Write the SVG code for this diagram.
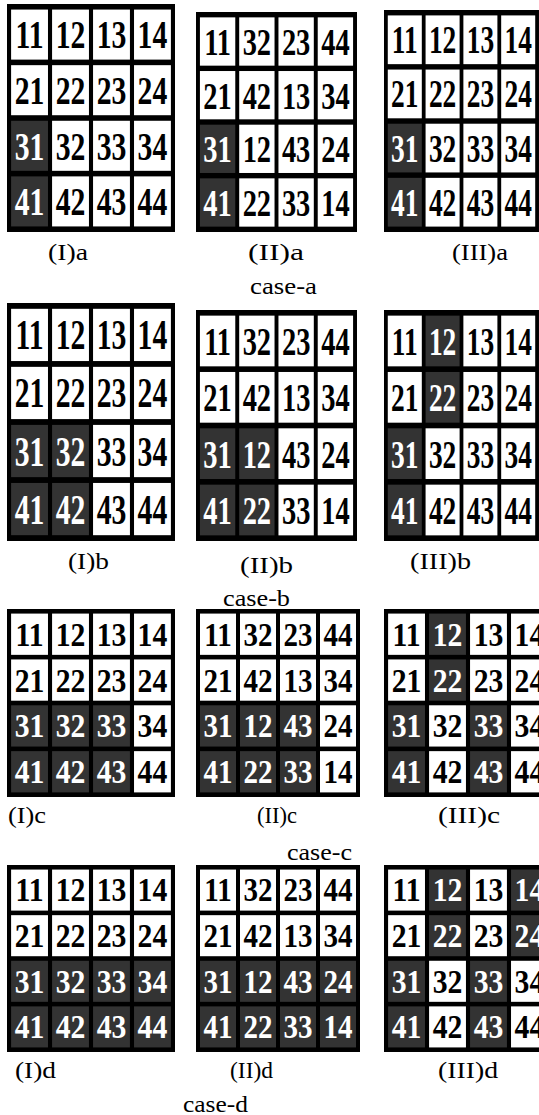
<svg xmlns="http://www.w3.org/2000/svg" width="539" height="1115" viewBox="0 0 539 1115">
<style>
.page{fill:#fff}
.bg{fill:#000}
.w{fill:#fff;width:36px;height:36px}
.d{fill:#333;width:36px;height:36px}
.t{font-family:"Liberation Serif","Times New Roman",serif;font-weight:bold;font-size:29px;text-anchor:middle;fill:#000}
.l{fill:#fff}
.lbl{font-family:"Liberation Serif","Times New Roman",serif;font-size:23px;fill:#000}
</style>
<rect class="page" width="539" height="1115"/>

<g id="grid-Ia" transform="translate(7,4) scale(1.0244,1.3902)">
<rect class="bg" width="164" height="164"/>
<rect class="w" x="4" y="4"/><text class="t" x="22" y="32">11</text>
<rect class="w" x="44" y="4"/><text class="t" x="62" y="32">12</text>
<rect class="w" x="84" y="4"/><text class="t" x="102" y="32">13</text>
<rect class="w" x="124" y="4"/><text class="t" x="142" y="32">14</text>
<rect class="w" x="4" y="44"/><text class="t" x="22" y="72">21</text>
<rect class="w" x="44" y="44"/><text class="t" x="62" y="72">22</text>
<rect class="w" x="84" y="44"/><text class="t" x="102" y="72">23</text>
<rect class="w" x="124" y="44"/><text class="t" x="142" y="72">24</text>
<rect class="d" x="4" y="84"/><text class="t l" x="22" y="112">31</text>
<rect class="w" x="44" y="84"/><text class="t" x="62" y="112">32</text>
<rect class="w" x="84" y="84"/><text class="t" x="102" y="112">33</text>
<rect class="w" x="124" y="84"/><text class="t" x="142" y="112">34</text>
<rect class="d" x="4" y="124"/><text class="t l" x="22" y="152">41</text>
<rect class="w" x="44" y="124"/><text class="t" x="62" y="152">42</text>
<rect class="w" x="84" y="124"/><text class="t" x="102" y="152">43</text>
<rect class="w" x="124" y="124"/><text class="t" x="142" y="152">44</text>
</g>

<g id="grid-IIa" transform="translate(196,12) scale(0.9817,1.3415)">
<rect class="bg" width="164" height="164"/>
<rect class="w" x="4" y="4"/><text class="t" x="22" y="32">11</text>
<rect class="w" x="44" y="4"/><text class="t" x="62" y="32">32</text>
<rect class="w" x="84" y="4"/><text class="t" x="102" y="32">23</text>
<rect class="w" x="124" y="4"/><text class="t" x="142" y="32">44</text>
<rect class="w" x="4" y="44"/><text class="t" x="22" y="72">21</text>
<rect class="w" x="44" y="44"/><text class="t" x="62" y="72">42</text>
<rect class="w" x="84" y="44"/><text class="t" x="102" y="72">13</text>
<rect class="w" x="124" y="44"/><text class="t" x="142" y="72">34</text>
<rect class="d" x="4" y="84"/><text class="t l" x="22" y="112">31</text>
<rect class="w" x="44" y="84"/><text class="t" x="62" y="112">12</text>
<rect class="w" x="84" y="84"/><text class="t" x="102" y="112">43</text>
<rect class="w" x="124" y="84"/><text class="t" x="142" y="112">24</text>
<rect class="d" x="4" y="124"/><text class="t l" x="22" y="152">41</text>
<rect class="w" x="44" y="124"/><text class="t" x="62" y="152">22</text>
<rect class="w" x="84" y="124"/><text class="t" x="102" y="152">33</text>
<rect class="w" x="124" y="124"/><text class="t" x="142" y="152">14</text>
</g>

<g id="grid-IIIa" transform="translate(384,10) scale(0.945,1.3537)">
<rect class="bg" width="164" height="164"/>
<rect class="w" x="4" y="4"/><text class="t" x="22" y="32">11</text>
<rect class="w" x="44" y="4"/><text class="t" x="62" y="32">12</text>
<rect class="w" x="84" y="4"/><text class="t" x="102" y="32">13</text>
<rect class="w" x="124" y="4"/><text class="t" x="142" y="32">14</text>
<rect class="w" x="4" y="44"/><text class="t" x="22" y="72">21</text>
<rect class="w" x="44" y="44"/><text class="t" x="62" y="72">22</text>
<rect class="w" x="84" y="44"/><text class="t" x="102" y="72">23</text>
<rect class="w" x="124" y="44"/><text class="t" x="142" y="72">24</text>
<rect class="d" x="4" y="84"/><text class="t l" x="22" y="112">31</text>
<rect class="w" x="44" y="84"/><text class="t" x="62" y="112">32</text>
<rect class="w" x="84" y="84"/><text class="t" x="102" y="112">33</text>
<rect class="w" x="124" y="84"/><text class="t" x="142" y="112">34</text>
<rect class="d" x="4" y="124"/><text class="t l" x="22" y="152">41</text>
<rect class="w" x="44" y="124"/><text class="t" x="62" y="152">42</text>
<rect class="w" x="84" y="124"/><text class="t" x="102" y="152">43</text>
<rect class="w" x="124" y="124"/><text class="t" x="142" y="152">44</text>
</g>

<g id="labels-a">
<text class="lbl" x="48" y="260" textLength="40" lengthAdjust="spacingAndGlyphs">(I)a</text>
<text class="lbl" x="248" y="260" textLength="56" lengthAdjust="spacingAndGlyphs">(II)a</text>
<text class="lbl" x="452" y="260" textLength="56" lengthAdjust="spacingAndGlyphs">(III)a</text>
<text class="lbl" x="250" y="294" textLength="67" lengthAdjust="spacingAndGlyphs">case-a</text>
</g>

<g id="grid-Ib" transform="translate(7,303) scale(1.0244,1.4512)">
<rect class="bg" width="164" height="164"/>
<rect class="w" x="4" y="4"/><text class="t" x="22" y="32">11</text>
<rect class="w" x="44" y="4"/><text class="t" x="62" y="32">12</text>
<rect class="w" x="84" y="4"/><text class="t" x="102" y="32">13</text>
<rect class="w" x="124" y="4"/><text class="t" x="142" y="32">14</text>
<rect class="w" x="4" y="44"/><text class="t" x="22" y="72">21</text>
<rect class="w" x="44" y="44"/><text class="t" x="62" y="72">22</text>
<rect class="w" x="84" y="44"/><text class="t" x="102" y="72">23</text>
<rect class="w" x="124" y="44"/><text class="t" x="142" y="72">24</text>
<rect class="d" x="4" y="84"/><text class="t l" x="22" y="112">31</text>
<rect class="d" x="44" y="84"/><text class="t l" x="62" y="112">32</text>
<rect class="w" x="84" y="84"/><text class="t" x="102" y="112">33</text>
<rect class="w" x="124" y="84"/><text class="t" x="142" y="112">34</text>
<rect class="d" x="4" y="124"/><text class="t l" x="22" y="152">41</text>
<rect class="d" x="44" y="124"/><text class="t l" x="62" y="152">42</text>
<rect class="w" x="84" y="124"/><text class="t" x="102" y="152">43</text>
<rect class="w" x="124" y="124"/><text class="t" x="142" y="152">44</text>
</g>

<g id="grid-IIb" transform="translate(196,310) scale(0.9817,1.4085)">
<rect class="bg" width="164" height="164"/>
<rect class="w" x="4" y="4"/><text class="t" x="22" y="32">11</text>
<rect class="w" x="44" y="4"/><text class="t" x="62" y="32">32</text>
<rect class="w" x="84" y="4"/><text class="t" x="102" y="32">23</text>
<rect class="w" x="124" y="4"/><text class="t" x="142" y="32">44</text>
<rect class="w" x="4" y="44"/><text class="t" x="22" y="72">21</text>
<rect class="w" x="44" y="44"/><text class="t" x="62" y="72">42</text>
<rect class="w" x="84" y="44"/><text class="t" x="102" y="72">13</text>
<rect class="w" x="124" y="44"/><text class="t" x="142" y="72">34</text>
<rect class="d" x="4" y="84"/><text class="t l" x="22" y="112">31</text>
<rect class="d" x="44" y="84"/><text class="t l" x="62" y="112">12</text>
<rect class="w" x="84" y="84"/><text class="t" x="102" y="112">43</text>
<rect class="w" x="124" y="84"/><text class="t" x="142" y="112">24</text>
<rect class="d" x="4" y="124"/><text class="t l" x="22" y="152">41</text>
<rect class="d" x="44" y="124"/><text class="t l" x="62" y="152">22</text>
<rect class="w" x="84" y="124"/><text class="t" x="102" y="152">33</text>
<rect class="w" x="124" y="124"/><text class="t" x="142" y="152">14</text>
</g>

<g id="grid-IIIb" transform="translate(384,310) scale(0.945,1.4085)">
<rect class="bg" width="164" height="164"/>
<rect class="w" x="4" y="4"/><text class="t" x="22" y="32">11</text>
<rect class="d" x="44" y="4"/><text class="t l" x="62" y="32">12</text>
<rect class="w" x="84" y="4"/><text class="t" x="102" y="32">13</text>
<rect class="w" x="124" y="4"/><text class="t" x="142" y="32">14</text>
<rect class="w" x="4" y="44"/><text class="t" x="22" y="72">21</text>
<rect class="d" x="44" y="44"/><text class="t l" x="62" y="72">22</text>
<rect class="w" x="84" y="44"/><text class="t" x="102" y="72">23</text>
<rect class="w" x="124" y="44"/><text class="t" x="142" y="72">24</text>
<rect class="d" x="4" y="84"/><text class="t l" x="22" y="112">31</text>
<rect class="w" x="44" y="84"/><text class="t" x="62" y="112">32</text>
<rect class="w" x="84" y="84"/><text class="t" x="102" y="112">33</text>
<rect class="w" x="124" y="84"/><text class="t" x="142" y="112">34</text>
<rect class="d" x="4" y="124"/><text class="t l" x="22" y="152">41</text>
<rect class="w" x="44" y="124"/><text class="t" x="62" y="152">42</text>
<rect class="w" x="84" y="124"/><text class="t" x="102" y="152">43</text>
<rect class="w" x="124" y="124"/><text class="t" x="142" y="152">44</text>
</g>

<g id="labels-b">
<text class="lbl" x="68" y="569" textLength="41" lengthAdjust="spacingAndGlyphs">(I)b</text>
<text class="lbl" x="240" y="573" textLength="53" lengthAdjust="spacingAndGlyphs">(II)b</text>
<text class="lbl" x="410" y="569" textLength="61" lengthAdjust="spacingAndGlyphs">(III)b</text>
<text class="lbl" x="223" y="606" textLength="67" lengthAdjust="spacingAndGlyphs">case-b</text>
</g>

<g id="grid-Ic" transform="translate(7,609) scale(1.0244,1.1463)">
<rect class="bg" width="164" height="164"/>
<rect class="w" x="4" y="4"/><text class="t" x="22" y="32">11</text>
<rect class="w" x="44" y="4"/><text class="t" x="62" y="32">12</text>
<rect class="w" x="84" y="4"/><text class="t" x="102" y="32">13</text>
<rect class="w" x="124" y="4"/><text class="t" x="142" y="32">14</text>
<rect class="w" x="4" y="44"/><text class="t" x="22" y="72">21</text>
<rect class="w" x="44" y="44"/><text class="t" x="62" y="72">22</text>
<rect class="w" x="84" y="44"/><text class="t" x="102" y="72">23</text>
<rect class="w" x="124" y="44"/><text class="t" x="142" y="72">24</text>
<rect class="d" x="4" y="84"/><text class="t l" x="22" y="112">31</text>
<rect class="d" x="44" y="84"/><text class="t l" x="62" y="112">32</text>
<rect class="d" x="84" y="84"/><text class="t l" x="102" y="112">33</text>
<rect class="w" x="124" y="84"/><text class="t" x="142" y="112">34</text>
<rect class="d" x="4" y="124"/><text class="t l" x="22" y="152">41</text>
<rect class="d" x="44" y="124"/><text class="t l" x="62" y="152">42</text>
<rect class="d" x="84" y="124"/><text class="t l" x="102" y="152">43</text>
<rect class="w" x="124" y="124"/><text class="t" x="142" y="152">44</text>
</g>

<g id="grid-IIc" transform="translate(196,609) scale(1,1.1463)">
<rect class="bg" width="164" height="164"/>
<rect class="w" x="4" y="4"/><text class="t" x="22" y="32">11</text>
<rect class="w" x="44" y="4"/><text class="t" x="62" y="32">32</text>
<rect class="w" x="84" y="4"/><text class="t" x="102" y="32">23</text>
<rect class="w" x="124" y="4"/><text class="t" x="142" y="32">44</text>
<rect class="w" x="4" y="44"/><text class="t" x="22" y="72">21</text>
<rect class="w" x="44" y="44"/><text class="t" x="62" y="72">42</text>
<rect class="w" x="84" y="44"/><text class="t" x="102" y="72">13</text>
<rect class="w" x="124" y="44"/><text class="t" x="142" y="72">34</text>
<rect class="d" x="4" y="84"/><text class="t l" x="22" y="112">31</text>
<rect class="d" x="44" y="84"/><text class="t l" x="62" y="112">12</text>
<rect class="d" x="84" y="84"/><text class="t l" x="102" y="112">43</text>
<rect class="w" x="124" y="84"/><text class="t" x="142" y="112">24</text>
<rect class="d" x="4" y="124"/><text class="t l" x="22" y="152">41</text>
<rect class="d" x="44" y="124"/><text class="t l" x="62" y="152">22</text>
<rect class="d" x="84" y="124"/><text class="t l" x="102" y="152">33</text>
<rect class="w" x="124" y="124"/><text class="t" x="142" y="152">14</text>
</g>

<g id="grid-IIIc" transform="translate(384,609) scale(1.0244,1.1463)">
<rect class="bg" width="164" height="164"/>
<rect class="w" x="4" y="4"/><text class="t" x="22" y="32">11</text>
<rect class="d" x="44" y="4"/><text class="t l" x="62" y="32">12</text>
<rect class="w" x="84" y="4"/><text class="t" x="102" y="32">13</text>
<rect class="w" x="124" y="4"/><text class="t" x="142" y="32">14</text>
<rect class="w" x="4" y="44"/><text class="t" x="22" y="72">21</text>
<rect class="d" x="44" y="44"/><text class="t l" x="62" y="72">22</text>
<rect class="w" x="84" y="44"/><text class="t" x="102" y="72">23</text>
<rect class="w" x="124" y="44"/><text class="t" x="142" y="72">24</text>
<rect class="d" x="4" y="84"/><text class="t l" x="22" y="112">31</text>
<rect class="w" x="44" y="84"/><text class="t" x="62" y="112">32</text>
<rect class="d" x="84" y="84"/><text class="t l" x="102" y="112">33</text>
<rect class="w" x="124" y="84"/><text class="t" x="142" y="112">34</text>
<rect class="d" x="4" y="124"/><text class="t l" x="22" y="152">41</text>
<rect class="w" x="44" y="124"/><text class="t" x="62" y="152">42</text>
<rect class="d" x="84" y="124"/><text class="t l" x="102" y="152">43</text>
<rect class="w" x="124" y="124"/><text class="t" x="142" y="152">44</text>
</g>

<g id="labels-c">
<text class="lbl" x="8" y="823" textLength="38" lengthAdjust="spacingAndGlyphs">(I)c</text>
<text class="lbl" x="257" y="823" textLength="40" lengthAdjust="spacingAndGlyphs">(II)c</text>
<text class="lbl" x="438" y="823" textLength="62" lengthAdjust="spacingAndGlyphs">(III)c</text>
<text class="lbl" x="287" y="860" textLength="65" lengthAdjust="spacingAndGlyphs">case-c</text>
</g>

<g id="grid-Id" transform="translate(7,865) scale(1.0244,1.1402)">
<rect class="bg" width="164" height="164"/>
<rect class="w" x="4" y="4"/><text class="t" x="22" y="32">11</text>
<rect class="w" x="44" y="4"/><text class="t" x="62" y="32">12</text>
<rect class="w" x="84" y="4"/><text class="t" x="102" y="32">13</text>
<rect class="w" x="124" y="4"/><text class="t" x="142" y="32">14</text>
<rect class="w" x="4" y="44"/><text class="t" x="22" y="72">21</text>
<rect class="w" x="44" y="44"/><text class="t" x="62" y="72">22</text>
<rect class="w" x="84" y="44"/><text class="t" x="102" y="72">23</text>
<rect class="w" x="124" y="44"/><text class="t" x="142" y="72">24</text>
<rect class="d" x="4" y="84"/><text class="t l" x="22" y="112">31</text>
<rect class="d" x="44" y="84"/><text class="t l" x="62" y="112">32</text>
<rect class="d" x="84" y="84"/><text class="t l" x="102" y="112">33</text>
<rect class="d" x="124" y="84"/><text class="t l" x="142" y="112">34</text>
<rect class="d" x="4" y="124"/><text class="t l" x="22" y="152">41</text>
<rect class="d" x="44" y="124"/><text class="t l" x="62" y="152">42</text>
<rect class="d" x="84" y="124"/><text class="t l" x="102" y="152">43</text>
<rect class="d" x="124" y="124"/><text class="t l" x="142" y="152">44</text>
</g>

<g id="grid-IId" transform="translate(196,865) scale(1,1.1402)">
<rect class="bg" width="164" height="164"/>
<rect class="w" x="4" y="4"/><text class="t" x="22" y="32">11</text>
<rect class="w" x="44" y="4"/><text class="t" x="62" y="32">32</text>
<rect class="w" x="84" y="4"/><text class="t" x="102" y="32">23</text>
<rect class="w" x="124" y="4"/><text class="t" x="142" y="32">44</text>
<rect class="w" x="4" y="44"/><text class="t" x="22" y="72">21</text>
<rect class="w" x="44" y="44"/><text class="t" x="62" y="72">42</text>
<rect class="w" x="84" y="44"/><text class="t" x="102" y="72">13</text>
<rect class="w" x="124" y="44"/><text class="t" x="142" y="72">34</text>
<rect class="d" x="4" y="84"/><text class="t l" x="22" y="112">31</text>
<rect class="d" x="44" y="84"/><text class="t l" x="62" y="112">12</text>
<rect class="d" x="84" y="84"/><text class="t l" x="102" y="112">43</text>
<rect class="d" x="124" y="84"/><text class="t l" x="142" y="112">24</text>
<rect class="d" x="4" y="124"/><text class="t l" x="22" y="152">41</text>
<rect class="d" x="44" y="124"/><text class="t l" x="62" y="152">22</text>
<rect class="d" x="84" y="124"/><text class="t l" x="102" y="152">33</text>
<rect class="d" x="124" y="124"/><text class="t l" x="142" y="152">14</text>
</g>

<g id="grid-IIId" transform="translate(384,865) scale(1.0244,1.1402)">
<rect class="bg" width="164" height="164"/>
<rect class="w" x="4" y="4"/><text class="t" x="22" y="32">11</text>
<rect class="d" x="44" y="4"/><text class="t l" x="62" y="32">12</text>
<rect class="w" x="84" y="4"/><text class="t" x="102" y="32">13</text>
<rect class="d" x="124" y="4"/><text class="t l" x="142" y="32">14</text>
<rect class="w" x="4" y="44"/><text class="t" x="22" y="72">21</text>
<rect class="d" x="44" y="44"/><text class="t l" x="62" y="72">22</text>
<rect class="w" x="84" y="44"/><text class="t" x="102" y="72">23</text>
<rect class="d" x="124" y="44"/><text class="t l" x="142" y="72">24</text>
<rect class="d" x="4" y="84"/><text class="t l" x="22" y="112">31</text>
<rect class="w" x="44" y="84"/><text class="t" x="62" y="112">32</text>
<rect class="d" x="84" y="84"/><text class="t l" x="102" y="112">33</text>
<rect class="w" x="124" y="84"/><text class="t" x="142" y="112">34</text>
<rect class="d" x="4" y="124"/><text class="t l" x="22" y="152">41</text>
<rect class="w" x="44" y="124"/><text class="t" x="62" y="152">42</text>
<rect class="d" x="84" y="124"/><text class="t l" x="102" y="152">43</text>
<rect class="w" x="124" y="124"/><text class="t" x="142" y="152">44</text>
</g>

<g id="labels-d">
<text class="lbl" x="15" y="1078" textLength="41" lengthAdjust="spacingAndGlyphs">(I)d</text>
<text class="lbl" x="230" y="1078" textLength="43" lengthAdjust="spacingAndGlyphs">(II)d</text>
<text class="lbl" x="438" y="1078" textLength="60" lengthAdjust="spacingAndGlyphs">(III)d</text>
<text class="lbl" x="183" y="1112" textLength="65" lengthAdjust="spacingAndGlyphs">case-d</text>
</g>
</svg>
